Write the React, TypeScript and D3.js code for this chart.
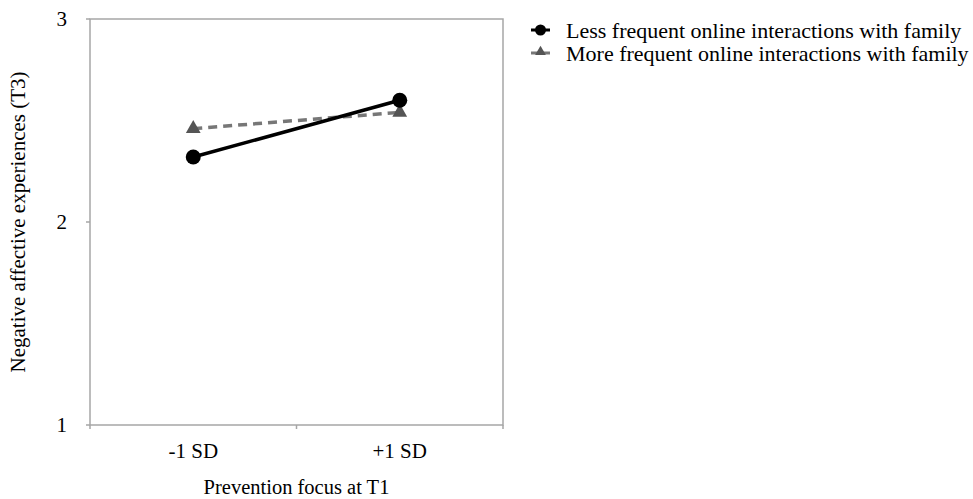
import React, { useEffect, useRef } from 'react';
import * as d3 from 'd3';

const categories = ['-1 SD', '+1 SD'];
const lessFrequent = [2.32, 2.6];
const moreFrequent = [2.46, 2.54];
const yTicks = [1, 2, 3];
const seriesNames = [
  'Less frequent online interactions with family',
  'More frequent online interactions with family',
];

const App = () => {
  const svgRef = useRef<SVGSVGElement>(null);

  useEffect(() => {
    const svg = d3.select(svgRef.current);
    svg.selectAll('*').remove();

    const width = 973;
    const height = 499;
    const m = { left: 90, right: 470, top: 19, bottom: 74 };
    const font = '"Liberation Serif", "Times New Roman", serif';

    svg.attr('width', width).attr('height', height);

    const x = d3.scaleBand().domain(categories).range([m.left, width - m.right]);
    const y = d3.scaleLinear().domain([1, 3]).range([height - m.bottom, m.top]);
    const cx = (c: string) => (x(c) as number) + x.bandwidth() / 2;

    const g = svg.append('g');
    const axisColor = '#a6a6a6';

    // frame
    g.append('rect')
      .attr('x', m.left).attr('y', m.top)
      .attr('width', width - m.right - m.left)
      .attr('height', height - m.bottom - m.top)
      .attr('fill', 'none').attr('stroke', axisColor).attr('stroke-width', 1.5);

    // y ticks
    yTicks.forEach(t => {
      g.append('line')
        .attr('x1', m.left - 4).attr('x2', m.left)
        .attr('y1', y(t)).attr('y2', y(t))
        .attr('stroke', axisColor).attr('stroke-width', 1.5);
      g.append('text')
        .attr('x', 67).attr('y', y(t))
        .attr('dy', '0.35em')
        .attr('text-anchor', 'end')
        .style('font-family', font).style('font-size', '21px')
        .text(t);
    });

    // x ticks (between categories)
    [m.left, (x('+1 SD') as number), width - m.right].forEach(px => {
      g.append('line')
        .attr('x1', px).attr('x2', px)
        .attr('y1', y(1)).attr('y2', y(1) + 4)
        .attr('stroke', axisColor).attr('stroke-width', 1.5);
    });
    categories.forEach(c => {
      g.append('text')
        .attr('x', cx(c)).attr('y', 458)
        .attr('text-anchor', 'middle')
        .style('font-family', font).style('font-size', '21px')
        .text(c);
    });

    // axis titles
    g.append('text')
      .attr('x', x('+1 SD') as number).attr('y', 494)
      .attr('text-anchor', 'middle')
      .style('font-family', font).style('font-size', '20.5px')
      .text('Prevention focus at T1');
    g.append('text')
      .attr('transform', `translate(25, ${y(2)}) rotate(-90)`)
      .attr('text-anchor', 'middle')
      .style('font-family', font).style('font-size', '21px')
      .text('Negative affective experiences (T3)');

    const line = d3.line<number>().x((_, i) => cx(categories[i])).y(d => y(d));
    const tri = d3.symbol().type(d3.symbolTriangle).size(95);

    // more frequent (dashed, triangles)
    g.append('path')
      .attr('d', line(moreFrequent))
      .attr('fill', 'none').attr('stroke', '#777777')
      .attr('stroke-width', 3.5).attr('stroke-dasharray', '9,6');
    moreFrequent.forEach((v, i) => {
      g.append('path')
        .attr('d', tri() as string)
        .attr('transform', `translate(${cx(categories[i])}, ${y(v)})`)
        .attr('fill', '#555555');
    });

    // less frequent (solid, circles)
    g.append('path')
      .attr('d', line(lessFrequent))
      .attr('fill', 'none').attr('stroke', '#000')
      .attr('stroke-width', 3.5);
    lessFrequent.forEach((v, i) => {
      g.append('circle')
        .attr('cx', cx(categories[i])).attr('cy', y(v))
        .attr('r', 7.5).attr('fill', '#000');
    });

    // legend
    const lg = svg.append('g');
    seriesNames.forEach((name, i) => {
      const ly = 30 + i * 23;
      lg.append('line')
        .attr('x1', 531).attr('x2', 550).attr('y1', ly).attr('y2', ly)
        .attr('stroke', i === 0 ? '#000' : '#777777').attr('stroke-width', 3);
      if (i === 0) {
        lg.append('circle').attr('cx', 540.5).attr('cy', ly).attr('r', 5.5).attr('fill', '#000');
      } else {
        lg.append('path')
          .attr('d', d3.symbol().type(d3.symbolTriangle).size(50)() as string)
          .attr('transform', `translate(540.5, ${ly - 1})`)
          .attr('fill', '#555555');
      }
      lg.append('text')
        .attr('x', 566).attr('y', ly)
        .attr('dy', '0.35em')
        .style('font-family', font).style('font-size', '22px')
        .text(name);
    });
  }, []);

  return (
    <div style={{ position: 'absolute', left: 0, top: 0 }}>
      <svg ref={svgRef}></svg>
    </div>
  );
};

export default App;
